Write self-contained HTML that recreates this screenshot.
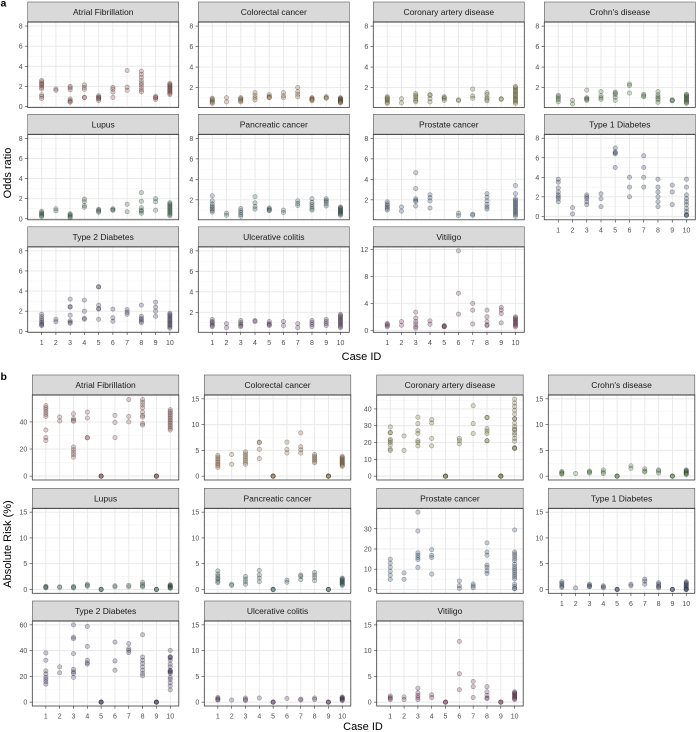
<!DOCTYPE html>
<html><head><meta charset="utf-8">
<style>
html,body{margin:0;padding:0;background:#fff;}
svg{display:block;}
.t{font-family:"Liberation Sans",Arial,sans-serif;font-size:7px;fill:#4d4d4d;}
.yt{text-anchor:end;}
.xt{text-anchor:middle;}
.st{font-family:"Liberation Sans",Arial,sans-serif;font-size:8.5px;fill:#1a1a1a;text-anchor:middle;}
.ax{font-family:"Liberation Sans",Arial,sans-serif;font-size:11px;fill:#000;text-anchor:middle;}
.lab{font-family:"Liberation Sans",Arial,sans-serif;font-size:10.5px;font-weight:bold;fill:#000;}
</style></head>
<body>
<svg id="s" xmlns="http://www.w3.org/2000/svg" width="696" height="732" viewBox="0 0 696 732">
<rect x="0" y="0" width="696" height="732" fill="#fff"/>
<g id="gfx"></g>
<g id="txt">
<text class="lab" x="0.5" y="6.5">a</text>
<text class="lab" x="0.5" y="380">b</text>

<text class="st" x="103.2" y="15.2">Atrial Fibrillation</text>
<text class="st" x="273.8" y="15.2">Colorectal cancer</text>
<text class="st" x="448.8" y="15.2">Coronary artery disease</text>
<text class="st" x="619.8" y="15.2">Crohn's disease</text>
<text class="st" x="103.2" y="127.5">Lupus</text>
<text class="st" x="273.8" y="127.5">Pancreatic cancer</text>
<text class="st" x="448.8" y="127.5">Prostate cancer</text>
<text class="st" x="619.8" y="127.5">Type 1 Diabetes</text>
<text class="st" x="103.2" y="240">Type 2 Diabetes</text>
<text class="st" x="273.8" y="240">Ulcerative colitis</text>
<text class="st" x="448.8" y="240">Vitiligo</text>

<text class="st" x="105.55" y="388.2">Atrial Fibrillation</text>
<text class="st" x="277.55" y="388.2">Colorectal cancer</text>
<text class="st" x="449.95" y="388.2">Coronary artery disease</text>
<text class="st" x="621.55" y="388.2">Crohn's disease</text>
<text class="st" x="105.55" y="501.5">Lupus</text>
<text class="st" x="277.55" y="501.5">Pancreatic cancer</text>
<text class="st" x="449.95" y="501.5">Prostate cancer</text>
<text class="st" x="621.55" y="501.5">Type 1 Diabetes</text>
<text class="st" x="105.55" y="614.2">Type 2 Diabetes</text>
<text class="st" x="277.55" y="614.2">Ulcerative colitis</text>
<text class="st" x="449.95" y="614.2">Vitiligo</text>

<g transform="translate(22.7,22)" class="t yt">
<text y="87.0">0</text><text y="66.9">2</text><text y="46.8">4</text><text y="26.6">6</text><text y="6.5">8</text></g>
<g transform="translate(193.3,22)" class="t yt">
<text y="68.0">2</text><text y="47.6">4</text><text y="27.1">6</text><text y="6.6">8</text></g>
<g transform="translate(368.3,22)" class="t yt">
<text y="68.0">2</text><text y="47.6">4</text><text y="27.1">6</text><text y="6.6">8</text></g>
<g transform="translate(539.3,22)" class="t yt">
<text y="68.0">2</text><text y="47.6">4</text><text y="27.1">6</text><text y="6.6">8</text></g>
<g transform="translate(22.7,134.3)" class="t yt">
<text y="87.0">0</text><text y="66.9">2</text><text y="46.8">4</text><text y="26.6">6</text><text y="6.5">8</text></g>
<g transform="translate(193.3,134.3)" class="t yt">
<text y="68.0">2</text><text y="47.6">4</text><text y="27.1">6</text><text y="6.6">8</text></g>
<g transform="translate(368.3,134.3)" class="t yt">
<text y="68.0">2</text><text y="47.6">4</text><text y="27.1">6</text><text y="6.6">8</text></g>
<g transform="translate(539.3,134.3)" class="t yt">
<text y="84.6">0</text><text y="65.0">2</text><text y="45.5">4</text><text y="26.0">6</text><text y="6.4">8</text></g>
<g transform="translate(22.7,246.8)" class="t yt">
<text y="87.0">0</text><text y="66.9">2</text><text y="46.8">4</text><text y="26.6">6</text><text y="6.5">8</text></g>
<g transform="translate(193.3,246.8)" class="t yt">
<text y="68.0">2</text><text y="47.6">4</text><text y="27.1">6</text><text y="6.6">8</text></g>
<g transform="translate(368.3,246.8)" class="t yt">
<text y="86.0">0</text><text y="59.0">4</text><text y="32.1">8</text><text y="5.2">12</text></g>

<g transform="translate(27.3,395)" class="t yt">
<text y="83.6">0</text><text y="56.5">20</text><text y="29.4">40</text></g>
<g transform="translate(199.3,395)" class="t yt">
<text y="83.6">0</text><text y="57.9">5</text><text y="32.1">10</text><text y="6.4">15</text></g>
<g transform="translate(371.7,395)" class="t yt">
<text y="83.6">0</text><text y="66.8">10</text><text y="50.0">20</text><text y="33.2">30</text><text y="16.4">40</text></g>
<g transform="translate(543.3,395)" class="t yt">
<text y="83.6">0</text><text y="57.9">5</text><text y="32.1">10</text><text y="6.4">15</text></g>
<g transform="translate(27.3,508.3)" class="t yt">
<text y="83.6">0</text><text y="57.9">5</text><text y="32.1">10</text><text y="6.4">15</text></g>
<g transform="translate(199.3,508.3)" class="t yt">
<text y="83.6">0</text><text y="57.9">5</text><text y="32.1">10</text><text y="6.4">15</text></g>
<g transform="translate(371.7,508.3)" class="t yt">
<text y="83.6">0</text><text y="63.4">10</text><text y="43.2">20</text><text y="23.0">30</text></g>
<g transform="translate(543.3,508.3)" class="t yt">
<text y="83.6">0</text><text y="57.9">5</text><text y="32.1">10</text><text y="6.4">15</text></g>
<g transform="translate(27.3,621)" class="t yt">
<text y="83.6">0</text><text y="57.9">20</text><text y="32.1">40</text><text y="6.4">60</text></g>
<g transform="translate(199.3,621)" class="t yt">
<text y="83.6">0</text><text y="57.9">5</text><text y="32.1">10</text><text y="6.4">15</text></g>
<g transform="translate(371.7,621)" class="t yt">
<text y="83.6">0</text><text y="57.9">5</text><text y="32.1">10</text><text y="6.4">15</text></g>

<g transform="translate(27.7,344.8)" class="t xt">
<text x="13.96">1</text><text x="28.2">2</text><text x="42.45">3</text><text x="56.7">4</text><text x="70.9">5</text><text x="85.2">6</text><text x="99.4">7</text><text x="113.7">8</text><text x="127.9">9</text><text x="142.2">10</text></g>
<g transform="translate(198.3,344.8)" class="t xt">
<text x="13.96">1</text><text x="28.2">2</text><text x="42.45">3</text><text x="56.7">4</text><text x="70.9">5</text><text x="85.2">6</text><text x="99.4">7</text><text x="113.7">8</text><text x="127.9">9</text><text x="142.2">10</text></g>
<g transform="translate(373.3,344.8)" class="t xt">
<text x="13.96">1</text><text x="28.2">2</text><text x="42.45">3</text><text x="56.7">4</text><text x="70.9">5</text><text x="85.2">6</text><text x="99.4">7</text><text x="113.7">8</text><text x="127.9">9</text><text x="142.2">10</text></g>
<g transform="translate(544.3,232.3)" class="t xt">
<text x="13.96">1</text><text x="28.2">2</text><text x="42.45">3</text><text x="56.7">4</text><text x="70.9">5</text><text x="85.2">6</text><text x="99.4">7</text><text x="113.7">8</text><text x="127.9">9</text><text x="142.2">10</text></g>

<g transform="translate(32.3,718.5)" class="t xt">
<text x="13.54">1</text><text x="27.4">2</text><text x="41.2">3</text><text x="55.0">4</text><text x="68.8">5</text><text x="82.6">6</text><text x="96.5">7</text><text x="110.3">8</text><text x="124.1">9</text><text x="137.9">10</text></g>
<g transform="translate(204.3,718.5)" class="t xt">
<text x="13.54">1</text><text x="27.4">2</text><text x="41.2">3</text><text x="55.0">4</text><text x="68.8">5</text><text x="82.6">6</text><text x="96.5">7</text><text x="110.3">8</text><text x="124.1">9</text><text x="137.9">10</text></g>
<g transform="translate(376.7,718.5)" class="t xt">
<text x="13.54">1</text><text x="27.4">2</text><text x="41.2">3</text><text x="55.0">4</text><text x="68.8">5</text><text x="82.6">6</text><text x="96.5">7</text><text x="110.3">8</text><text x="124.1">9</text><text x="137.9">10</text></g>
<g transform="translate(548.3,605.8)" class="t xt">
<text x="13.54">1</text><text x="27.4">2</text><text x="41.2">3</text><text x="55.0">4</text><text x="68.8">5</text><text x="82.6">6</text><text x="96.5">7</text><text x="110.3">8</text><text x="124.1">9</text><text x="137.9">10</text></g>

<text class="ax" transform="translate(11.2,173) rotate(-90)">Odds ratio</text>
<text class="ax" transform="translate(11.2,544) rotate(-90)">Absolute Risk (%)</text>
<text class="ax" x="361.5" y="360">Case ID</text>
<text class="ax" x="363" y="730">Case ID</text>
</g>
</svg>
<script>
(function(){
var NS='http://www.w3.org/2000/svg';
var g=document.getElementById('gfx');
function el(tag,a){var e=document.createElementNS(NS,tag);for(var k in a)e.setAttribute(k,a[k]);g.appendChild(e);return e;}
function R(a,b,n){var r=[];for(var i=0;i<n;i++)r.push(a+(b-a)*i/(n-1));return r;}
var L={
 a:{lefts:[27.7,198.3,373.3,544.3],W:151,tops:[2,114.3,226.8],ph:85.5},
 b:{lefts:[32.3,204.3,376.7,548.3],W:146.5,tops:[375,488.3,601],ph:85}
};
var A8=[0,2,4,6,8], A8m=[1,3,5,7];
var B15=[0,5,10,15], B15m=[2.5,7.5,12.5];
var P=[
 {s:'a',r:0,c:0,lo:-0.1,hi:8.4,mj:A8,mn:A8m,col:'#9e4a4a',d:{
  1:[2.6,2.45,2.3,2.2,2.05,1.9,1.75,1.17,1.0,0.8],2:[1.75,1.6],3:[2.0,1.85,1.66,0.75,0.6,0.5,0.42],
  4:[2.15,1.9,1.7,0.9,0.88],5:[1.07,0.95,0.9,0.8,0.75,0.6],6:[1.9,1.72,1.43,0.9],7:[3.58,1.92,1.6],
  8:[3.5,3.2,2.9,2.6,2.35,2.15,1.9,1.65,1.45],9:[1.0,0.9,0.85,0.7],10:R(2.3,1.2,12)}},
 {s:'a',r:0,c:1,lo:0.05,hi:8.4,mj:A8,mn:A8m,col:'#a06a2a',d:{
  1:[0.95,0.85,0.75,0.65,0.55,0.45],2:[1.0,0.6],3:[1.0,0.9,0.8,0.7,0.6],4:[1.5,1.25,1.0,0.8],
  5:[1.3,1.15,1.05,1.0],6:[1.5,1.2,1.0],7:[2.0,1.6,1.35,1.1],8:[1.0,0.95,0.85,0.8,0.7],9:[1.1,1.0,0.95],10:R(1.0,0.5,10)}},
 {s:'a',r:0,c:2,lo:0.05,hi:8.4,mj:A8,mn:A8m,col:'#7a7a2a',d:{
  1:[1.1,1.0,0.9,0.8,0.7,0.55,0.45],2:[0.9,0.5],3:[1.4,1.25,1.1,0.9,0.75,0.6],4:[1.3,1.25,0.9,0.6],
  5:[1.1,1.0,0.9,0.75],6:[0.8,0.72],7:[1.85,1.17,0.95],8:[1.5,1.3,1.0,0.85,0.7],9:[0.9,0.85],10:R(2.1,0.45,14)}},
 {s:'a',r:0,c:3,lo:0.05,hi:8.4,mj:A8,mn:A8m,col:'#3f7f2f',d:{
  1:[1.25,1.1,0.95,0.8,0.6],2:[0.75,0.4],3:[1.75,1.0,0.9,0.85,0.75],4:[1.6,1.2,1.0,0.85],
  5:[1.55,1.45,1.3,1.05,0.75],6:[2.35,2.2,1.45],7:[1.35,1.2,1.1],8:[1.6,1.3,1.1,0.95,0.8,0.55],9:[0.8,0.75,0.7],10:R(1.35,0.45,11)}},
 {s:'a',r:1,c:0,lo:-0.1,hi:8.4,mj:A8,mn:A8m,col:'#2a6a40',d:{
  1:[0.75,0.6,0.5,0.4,0.3,0.2],2:[1.0,0.8],3:[0.5,0.4,0.3,0.2,0.1],4:[1.95,1.7,1.3,1.15],
  5:[0.95,0.85,0.75,0.65],6:[1.0,0.9,0.85],7:[1.45,0.7],8:[2.6,1.75,1.1,0.85,0.75,0.55],9:[2.0,1.7,0.85],10:R(1.6,0.3,12)}},
 {s:'a',r:1,c:1,lo:0.05,hi:8.4,mj:A8,mn:A8m,col:'#2a6060',d:{
  1:[2.4,1.9,1.6,1.4,1.25,1.1,0.95,0.8],2:[0.7,0.5],3:[1.15,0.95,0.75,0.55,0.4],4:[2.3,1.7,1.35,1.1],
  5:[1.2,1.1,1.0,0.95],6:[1.0,0.75],7:[1.9,1.65,1.45],8:[2.1,1.75,1.55,1.35,1.15,1.0],9:[2.1,1.95,1.8,1.6,1.4],10:R(1.3,0.5,11)}},
 {s:'a',r:1,c:2,lo:0.05,hi:8.4,mj:A8,mn:A8m,col:'#2a5078',d:{
  1:[1.8,1.6,1.45,1.3,1.15,1.0],2:[1.3,0.9],3:[4.65,3.1,2.1,1.95,1.85,1.4],4:[2.5,2.2,1.9,1.2],
  6:[0.7,0.45],7:[0.6,0.5],8:[2.6,2.25,1.9,1.55,1.3,1.1],10:R(2.1,0.4,13).concat([3.4,2.6])}},
 {s:'a',r:1,c:3,lo:-0.35,hi:8.4,mj:A8,mn:A8m,col:'#2a3a6a',xl:1,d:{
  1:[3.8,3.5,2.9,2.5,2.2,2.0,1.8,1.5],2:[0.9,0.25],3:[2.2,2.0,1.8,1.5,1.2],4:[2.3,1.8,1.0],
  5:[7.0,6.6,6.5,6.4,5.0],6:[4.0,3.0,2.0],7:[6.2,5.0,4.0,3.0],8:[3.8,3.0,2.5,2.0,1.5,1.0],9:[3.2,2.5,1.2],
  10:[3.8,3.0,2.2,1.8,1.5,1.2,0.8,0.5,0.2,0.1,0.1]}},
 {s:'a',r:2,c:0,lo:-0.1,hi:8.4,mj:A8,mn:A8m,col:'#40306a',xl:1,d:{
  1:[1.7,1.45,1.25,1.05,0.9,0.75,0.65,0.55],2:[1.2,0.95],3:[3.2,2.45,2.4,1.6,1.05,0.9,0.8],4:[3.1,2.0,1.3,1.2],
  5:[4.43,4.4,2.6,2.27,2.2,1.2],6:[2.2,1.35,1.0],7:[2.15,1.9,1.7],8:[2.6,1.5,1.3,1.15,1.0,0.85],9:[2.9,2.4,2.0,1.5],10:R(1.8,0.3,13)}},
 {s:'a',r:2,c:1,lo:0.05,hi:8.4,mj:A8,mn:A8m,col:'#5a2a6a',xl:1,d:{
  1:[1.3,1.1,1.0,0.85,0.7,0.6],2:[0.9,0.5],3:[1.2,1.0,0.85,0.7,0.6],4:[1.2,1.1],5:[1.1,0.9,0.8,0.7],
  6:[1.1,0.7],7:[0.9,0.5],8:[1.2,1.0,0.8,0.6],9:[1.3,1.1,0.9,0.7],10:R(1.8,0.5,12)}},
 {s:'a',r:2,c:2,lo:-0.3,hi:12.4,mj:[0,4,8,12],mn:[2,6,10],col:'#7a2a5a',xl:1,d:{
  1:[1.0,0.85,0.7,0.5],2:[1.28,0.75],3:[2.7,1.8,1.3,0.94,0.54,0.3],4:[1.4,0.9],5:[0.7,0.6,0.55,0.5],
  6:[11.8,5.5,2.4],7:[4.0,3.0,0.94],8:[3.0,2.0,1.3,0.8,0.7],9:[3.4,3.0,2.5,1.1],10:R(2.0,0.5,10)}},
 {s:'b',r:0,c:0,lo:-2.85,hi:59.85,mj:[0,20,40],mn:[10,30,50],col:'#9e4a4a',d:{
  1:[52,50.4,49,47.2,45.6,44.1,34,28.4,26.3],2:[43.6,40.7],3:[46,42.4,41.2,40.5,21.5,19.5,17.6,15.9,14],
  4:[47.2,42.9,28.4,28.2],5:[0,0,0,0],6:[44.8,39.6,28.4],7:[56.4,44.1,40],
  8:[56.4,54.5,52.5,50.4,47.2,44.8,43.6,38.8,37.6],9:[0,0,0,0],10:R(49,34,13)}},
 {s:'b',r:0,c:1,lo:-0.75,hi:15.75,mj:B15,mn:B15m,col:'#a06a2a',d:{
  1:R(4.0,1.7,8),2:[4.2,2.3],3:R(4.7,2.3,7),4:[6.6,6.5,5.2,3.4],5:[0,0,0,0],6:[6.6,5.2,4.5],
  7:[8.4,5.7,5.1,4.5],8:R(4.2,2.6,6),9:[0,0,0,0],10:R(3.8,1.9,11)}},
 {s:'b',r:0,c:2,lo:-2.3,hi:48.3,mj:[0,10,20,30,40],mn:[5,15,25,35,45],col:'#7a7a2a',d:{
  1:[29.3,26,25.8,21.9,21.1,20,18.6,16.1,15.3],2:[23.9,15.3],3:[35.1,31.3,27,25.4,21.1,20,18],
  4:[33.6,31.6,22.5,18],5:[0,0,0,0],6:[22.5,21.1,19.2],7:[41.9,31.3,25.4],
  8:[35,34.8,28.3,26.8,25.4,21.1,21],9:[0,0,0,0],
  10:[45.8,43.5,41.5,39.2,37,34.2,34,31.5,29.5,28,27.5,25.8,24.5,22.5,20.8,17,16.6,16.4]}},
 {s:'b',r:0,c:3,lo:-0.75,hi:15.75,mj:B15,mn:B15m,col:'#3f7f2f',d:{
  1:[0.9,0.7,0.5,0.4],2:[0.5],3:[1.0,0.8,0.6],4:[1.2,0.8,0.5],5:[0,0,0],6:[2.0,1.5],
  7:[1.4,1.0,0.8],8:[1.2,1.0,0.6],9:[0,0,0],10:R(1.2,0.3,8)}},
 {s:'b',r:1,c:0,lo:-0.75,hi:15.75,mj:B15,mn:B15m,col:'#2a6a40',d:{
  1:[0.6,0.5,0.4,0.3],2:[0.5,0.4],3:[0.6,0.4,0.3],4:[1.0,0.8,0.6],5:[0,0,0],6:[0.7,0.5],
  7:[0.8,0.5],8:[1.4,1.0,0.7,0.5],9:[0,0,0],10:R(0.9,0.2,8)}},
 {s:'b',r:1,c:1,lo:-0.75,hi:15.75,mj:B15,mn:B15m,col:'#2a6060',d:{
  1:[3.6,3.0,2.6,2.2,2.0,1.6,1.3],2:[1.0,0.8],3:[2.5,2.0,1.5,1.0],4:[3.7,2.8,2.2,1.5],5:[0,0,0],
  6:[1.8,1.4],7:[2.8,2.5,1.9],8:[3.3,2.8,2.3,1.7],9:[0,0,0],10:R(2.2,0.8,10)}},
 {s:'b',r:1,c:2,lo:-1.91,hi:40.11,mj:[0,10,20,30],mn:[5,15,25,35],col:'#2a5078',d:{
  1:[15,13,11,9,7,5],2:[8.2,5.0],3:[38.2,28.9,18.1,16.9,15.8,14.8,10.9],4:[19.7,16.9,15.8,7.6],
  6:[4.2,1.8,0.5],7:[2.7,1.7,0.8],8:[23,18.5,16.9,12,10.9,9.2,7.9],
  10:[29.4,18.5,17.5,16.5,15.3,14.2,12.5,11.3,10.2,9.2,8.2,7.2,6.2,5.2,2.6,1.5,0.5,0.3]}},
 {s:'b',r:1,c:3,lo:-0.75,hi:15.75,mj:B15,mn:B15m,col:'#2a3a6a',xl:1,d:{
  1:[1.5,1.2,0.9,0.6,0.4],2:[0.3],3:[1.0,0.8,0.6,0.5],4:[0.7,0.5,0.3],5:[0,0,0],6:[1.0,0.7],
  7:[2.0,1.6,1.0],8:[1.3,1.0,0.7,0.5,0.3],9:[0,0,0],10:R(1.5,0,9).concat([0,0])}},
 {s:'b',r:2,c:0,lo:-3,hi:63,mj:[0,20,40,60],mn:[10,30,50],col:'#40306a',xl:1,d:{
  1:[38.2,32.5,24.3,21.8,19.2,17.7,15.8,14],2:[27.4,22.8],3:[60,50.5,49.2,37.7,25.4,23.5,22.3,19.2],
  4:[58.7,43.3,32.5,30.5,29.5],5:[0,0,0,0],6:[46.6,32,24.8],7:[45.4,41.5,40.2,38.5],
  8:[52.3,35,32.5,30,27.4,24.8,22.3,20.5],9:[0,0,0,0],
  10:[40.2,35.1,35,34.3,32.5,29.5,27.4,24.8,24.3,23.5,23.4,22.3,19.2,17.7,15.1,12.5,9.5]}},
 {s:'b',r:2,c:1,lo:-0.75,hi:15.75,mj:B15,mn:B15m,col:'#5a2a6a',xl:1,d:{
  1:[0.9,0.7,0.5,0.4],2:[0.4],3:[0.8,0.5,0.3],4:[0.8],5:[0,0,0],6:[0.7],7:[0.6,0.4],8:[0.8,0.5],9:[0,0,0],10:R(1.0,0.3,7)}},
 {s:'b',r:2,c:2,lo:-0.75,hi:15.75,mj:B15,mn:B15m,col:'#7a2a5a',xl:1,d:{
  1:[1.2,0.9,0.7,0.5],2:[1.0,0.5],3:[2.7,1.8,1.3,0.9,0.5],4:[1.4,0.9],5:[0,0,0],6:[11.8,5.5,2.4],
  7:[4.0,3.0,0.9],8:[3.0,2.0,1.3,0.8,0.7],9:[0,0,0],10:R(2.0,0.5,10)}}
];
P.forEach(function(p){
 var S=L[p.s],x0=S.lefts[p.c],st=S.tops[p.r],y0=st+20,W=S.W,H=S.ph;
 var X=function(v){return x0+W*(v-0.02)/10.6;};
 var Y=function(v){return y0+H*(p.hi-v)/(p.hi-p.lo);};
 el('rect',{x:x0,y:y0,width:W,height:H,fill:'#fff'});
 p.mn.forEach(function(v){if(v>p.lo&&v<p.hi){var y=Y(v);el('line',{x1:x0,x2:x0+W,y1:y,y2:y,stroke:'#f3f3f3','stroke-width':0.6});}});
 p.mj.forEach(function(v){if(v>p.lo&&v<p.hi){var y=Y(v);el('line',{x1:x0,x2:x0+W,y1:y,y2:y,stroke:'#e8e8e8','stroke-width':0.9});}});
 for(var k=1;k<=10;k++){var x=X(k);el('line',{x1:x,x2:x,y1:y0,y2:y0+H,stroke:'#e8e8e8','stroke-width':0.9});}
 for(var k in p.d){var xs=X(+k);p.d[k].forEach(function(v){
   el('circle',{cx:xs,cy:Y(v),r:2.15,fill:p.col,'fill-opacity':0.26,stroke:'#2a2a2a','stroke-opacity':0.38,'stroke-width':0.7});
 });}
 el('rect',{x:x0,y:y0,width:W,height:H,fill:'none',stroke:'#3a3a3a','stroke-width':0.8});
 el('rect',{x:x0,y:st,width:W,height:20,fill:'#d9d9d9',stroke:'#5a5a5a','stroke-width':0.6});
 el('line',{x1:x0,x2:x0+W,y1:y0,y2:y0,stroke:'#333','stroke-width':0.9});
 p.mj.forEach(function(v){if(v>p.lo&&v<p.hi){var y=Y(v);el('line',{x1:x0-2.75,x2:x0,y1:y,y2:y,stroke:'#333','stroke-width':0.6});}});
 if(p.xl){for(var k=1;k<=10;k++){var x=X(k);el('line',{x1:x,x2:x,y1:y0+H,y2:y0+H+2.75,stroke:'#333','stroke-width':0.6});}}
});
})();
</script>
</body></html>
